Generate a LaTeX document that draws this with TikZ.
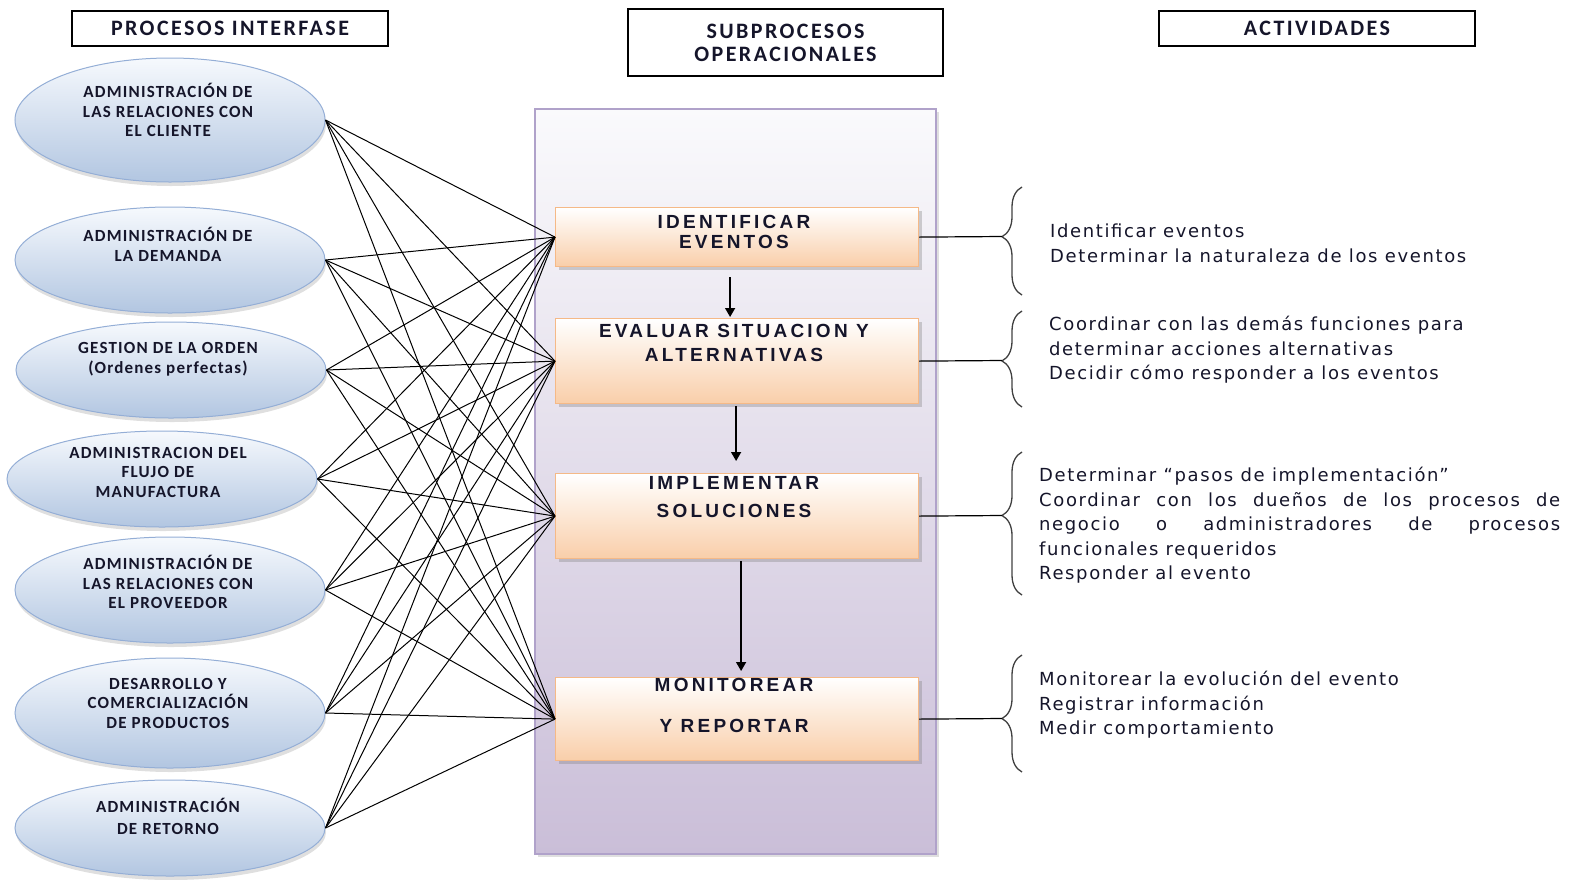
\documentclass[tikz,border=0pt]{standalone}
\usepackage{fontspec}
\setmainfont{Carlito}
\newfontfamily\headfont[LetterSpace=11]{Carlito}
\newfontfamily\ellfont[LetterSpace=7]{Carlito}
\newfontfamily\boxfont[LetterSpace=17]{Liberation Sans}
\newfontfamily\actfont[LetterSpace=9]{DejaVu Sans}
\usetikzlibrary{shapes.geometric,shadows,decorations.pathreplacing,arrows.meta}
\definecolor{ellTop}{HTML}{F6F9FD}
\definecolor{ellBot}{HTML}{B2C6E1}
\definecolor{ellLine}{HTML}{94AED6}
\definecolor{boxTop}{HTML}{FFFFFF}
\definecolor{boxBot}{HTML}{F9CEA9}
\definecolor{boxLine}{HTML}{F5B987}
\definecolor{panTop}{HTML}{FAFAFC}
\definecolor{panBot}{HTML}{CABED8}
\definecolor{panLine}{HTML}{B0A2CA}
\definecolor{txt}{HTML}{15152A}
\definecolor{brc}{HTML}{404040}
\tikzset{
  ell/.style={ellipse, draw=ellLine, line width=1pt, top color=ellTop, bottom color=ellBot, inner sep=0pt,
    drop shadow={shadow xshift=1pt, shadow yshift=-4pt, opacity=0.25}},
  elltext/.style={align=center, text=txt, inner sep=0pt, font=\ellfont\bfseries\fontsize{17}{19.5}\selectfont},
  hbox/.style={draw=black, line width=1.6pt, fill=white, inner sep=0pt, align=center, text=txt,
    font=\headfont\bfseries\fontsize{22}{23}\selectfont},
  panel/.style={draw=panLine, line width=1.5pt, top color=panTop, bottom color=panBot, inner sep=0pt,
    drop shadow={shadow xshift=3pt, shadow yshift=-3pt, opacity=0.25}},
  sbox/.style={draw=boxLine, line width=1.2pt, top color=boxTop, bottom color=boxBot, inner sep=0pt,
    drop shadow={shadow xshift=3pt, shadow yshift=-3pt, opacity=0.35}},
  btext/.style={align=center, text=txt, inner sep=0pt, font=\boxfont\bfseries\fontsize{19}{24}\selectfont},
  acttext/.style={align=left, text=txt, inner sep=0pt, anchor=north west, font=\actfont\fontsize{18}{24.5}\selectfont},
  conn/.style={draw=black, line width=1pt},
  arr/.style={draw=black, line width=1.5pt, -{Triangle[length=9pt,width=10pt]}},
  brace/.style={draw=brc, line width=1.3pt, decorate, decoration={brace, amplitude=20pt, aspect=#1}},
  link/.style={draw=black, line width=1.2pt}
}
\begin{document}
\begin{tikzpicture}[x=1pt,y=-1pt]
\useasboundingbox (0,0) rectangle (1581,879);
% headers
\node[hbox, minimum width=316pt, minimum height=35pt] (H1) at (230,28.5) {PROCESOS INTERFASE};
\node[hbox, minimum width=315pt, minimum height=67pt] (H2) at (785.5,42.5) {SUBPROCESOS\\OPERACIONALES};
\node[hbox, minimum width=316pt, minimum height=35pt] (H3) at (1317,28.5) {ACTIVIDADES};
% panel
\node[panel, minimum width=401pt, minimum height=745pt, anchor=north west] (P) at (534,108) {};
% ellipses
\node[ell, minimum width=310pt, minimum height=124pt] (E1) at (170,120) {};
\node[ell, minimum width=310pt, minimum height=106pt] (E2) at (170,260) {};
\node[ell, minimum width=310pt, minimum height=96pt] (E3) at (171,370) {};
\node[ell, minimum width=310pt, minimum height=96pt] (E4) at (162,479) {};
\node[ell, minimum width=310pt, minimum height=106pt] (E5) at (170,590) {};
\node[ell, minimum width=310pt, minimum height=110pt] (E6) at (170,713) {};
\node[ell, minimum width=310pt, minimum height=96pt] (E7) at (170,828) {};
\node[elltext] (E1t) at (168,110) {ADMINISTRACIÓN DE\\LAS RELACIONES CON\\EL CLIENTE};
\node[elltext] (E2t) at (168,244.5) {ADMINISTRACIÓN DE\\LA DEMANDA};
\node[elltext] (E3t) at (168,359.5) {GESTION DE LA ORDEN\\(Ordenes perfectas)};
\node[elltext] (E4t) at (158,472) {ADMINISTRACION DEL\\FLUJO DE\\MANUFACTURA};
\node[elltext] (E5t) at (168,582) {ADMINISTRACIÓN DE\\LAS RELACIONES CON\\EL PROVEEDOR};
\node[elltext] (E6t) at (168,703) {DESARROLLO Y\\COMERCIALIZACIÓN\\DE PRODUCTOS};
\node[elltext, font=\ellfont\bfseries\fontsize{17}{22}\selectfont] (E7t) at (168,816) {ADMINISTRACIÓN\\DE RETORNO};
% boxes
\node[sbox, minimum width=363pt, minimum height=59pt, anchor=north west] (B1) at (555,207) {};
\node[sbox, minimum width=363pt, minimum height=85pt, anchor=north west] (B2) at (555,318) {};
\node[sbox, minimum width=363pt, minimum height=85pt, anchor=north west] (B3) at (555,473) {};
\node[sbox, minimum width=363pt, minimum height=83pt, anchor=north west] (B4) at (555,677) {};
% connectors
\foreach \e in {E1,E2,E3,E4,E5,E6,E7}{
  \foreach \b in {B1,B2,B3,B4}{
    \draw[conn] (\e.east) -- (\b.west);
  }
}
% box texts
\node[btext, font=\boxfont\bfseries\fontsize{19}{20}\selectfont] (B1t) at (734,232) {IDENTIFICAR\\EVENTOS};
\node[btext] (B2t) at (734,343) {EVALUAR SITUACION Y\\ALTERNATIVAS};
\node[btext, font=\boxfont\bfseries\fontsize{19}{28}\selectfont] (B3t) at (734,497) {IMPLEMENTAR\\SOLUCIONES};
\node[btext] (B4a) at (734,685) {MONITOREAR};
\node[btext] (B4b) at (734,726) {Y REPORTAR};
% arrows
\draw[arr, shorten <=10pt, shorten >=1pt] ([xshift=-7pt]B1.south) -- ([xshift=-7pt]B2.north);
\draw[arr, shorten <=2pt, shorten >=12pt] ([xshift=-1pt]B2.south) -- ([xshift=-1pt]B3.north);
\draw[arr, shorten <=2pt, shorten >=6pt] ([xshift=4pt]B3.south) -- ([xshift=4pt]B4.north);
% braces
\draw[brace=0.54] (1022,295) -- (1022,187);
\draw[brace=0.48] (1022,407) -- (1022,311);
\draw[brace=0.556] (1022,595) -- (1022,452);
\draw[brace=0.457] (1022,772) -- (1022,655);
\coordinate (T1) at (1002,236.5);
\coordinate (T2) at (1002,360.5);
\coordinate (T3) at (1002,515.5);
\coordinate (T4) at (1002,718.5);
\draw[link] (B1.east) -- (T1);
\draw[link] (B2.east) -- (T2);
\draw[link] (B3.east) -- (T3);
\draw[link] (B4.east) -- (T4);
% activities
\node[acttext] (A1) at (1050,224) {Identificar eventos\\Determinar la naturaleza de los eventos};
\node[acttext] (A2) at (1049,316) {Coordinar con las demás funciones para\\determinar acciones alternativas\\Decidir cómo responder a los eventos};
\node[acttext] (A3) at (1039,467) {Determinar “pasos de implementación”\\\makebox[521pt][s]{Coordinar con los dueños de los procesos de}\\\makebox[521pt][s]{negocio o administradores de procesos}\\funcionales requeridos\\Responder al evento};
\node[acttext] (A4) at (1039,671) {Monitorear la evolución del evento\\Registrar información\\Medir comportamiento};
\end{tikzpicture}
\end{document}
